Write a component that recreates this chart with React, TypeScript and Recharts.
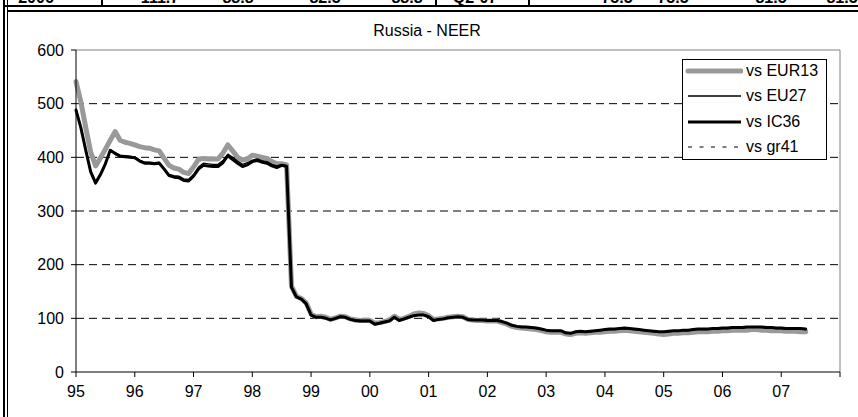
import React from 'react';
import {
  LineChart,
  Line,
  XAxis,
  YAxis,
  ReferenceLine,
  Legend,
} from 'recharts';

// Russia NEER, monthly, Jan 1995 - Jun 2007 (index values)
const eur13 = [
  541, 503, 455, 410, 384, 399, 415, 432, 448, 432, 428, 426,
  423, 420, 418, 417, 414, 412, 398, 385, 380, 378, 372, 370,
  382, 396, 398, 397, 397, 397, 408, 423, 412, 400, 395, 397,
  404, 402, 400, 398, 392, 388, 388, 386, 160, 141, 137, 129,
  108, 103, 104, 102, 98, 101, 104, 103, 99, 97, 96, 96,
  96, 91, 92, 94, 97, 104, 98, 100, 104, 108, 110, 109,
  105, 98, 99, 100, 102, 103, 104, 103, 98, 97, 96, 96,
  95, 95, 95, 92, 89, 85, 83, 82, 81, 80, 79, 77,
  75, 74, 74, 74, 71, 70, 72, 73, 72, 73, 74, 74,
  75, 76, 76, 77, 78, 77, 76, 75, 74, 73, 72, 71,
  70, 71, 72, 72, 73, 73, 74, 75, 75, 75, 76, 76,
  77, 77, 78, 78, 78, 78, 79, 79, 78, 78, 77, 77,
  77, 76, 76, 76, 75, 75,
];

const eu27 = [
  490, 457, 415, 375, 355, 370, 390, 414, 409, 404, 403, 402,
  401, 395, 391, 391, 390, 391, 380, 368, 366, 365, 360, 359,
  368, 382, 389, 388, 387, 387, 394, 406, 400, 393, 387, 390,
  395, 397, 394, 392, 387, 384, 387, 385, 159, 141, 137, 128,
  107, 103, 103, 101, 98, 101, 104, 103, 99, 97, 96, 96,
  96, 90, 92, 94, 96, 103, 97, 100, 103, 106, 107, 107,
  104, 97, 98, 99, 101, 102, 103, 102, 98, 97, 97, 97,
  96, 96, 96, 94, 91, 87, 85, 84, 83, 82, 81, 79,
  77, 76, 76, 76, 73, 72, 74, 75, 74, 75, 76, 77,
  78, 79, 79, 80, 81, 80, 79, 78, 77, 76, 75, 74,
  74, 75, 76, 76, 77, 77, 78, 79, 79, 79, 80, 80,
  81, 81, 82, 82, 82, 83, 83, 83, 83, 82, 82, 81,
  81, 80, 80, 80, 80, 79,
];

const ic36 = [
  488, 455, 413, 373, 352, 368, 388, 413, 407, 402, 401, 400,
  399, 393, 389, 389, 388, 389, 378, 366, 363, 362, 357, 356,
  365, 378, 385, 384, 383, 383, 390, 403, 396, 389, 383, 386,
  392, 394, 391, 389, 384, 381, 385, 383, 158, 140, 136, 127,
  106, 102, 102, 100, 97, 100, 103, 102, 98, 96, 95, 95,
  95, 89, 91, 93, 95, 102, 96, 99, 102, 105, 106, 106,
  103, 96, 98, 99, 101, 102, 103, 102, 98, 97, 97, 97,
  96, 96, 96, 94, 91, 87, 85, 84, 84, 83, 82, 80,
  78, 77, 77, 77, 73, 72, 75, 76, 75, 76, 77, 78,
  79, 80, 80, 81, 82, 81, 80, 79, 78, 77, 76, 75,
  75, 76, 77, 77, 78, 78, 79, 80, 80, 80, 81, 81,
  82, 82, 83, 83, 83, 84, 84, 84, 84, 83, 83, 82,
  82, 81, 81, 81, 81, 80,
];

// the dotted gr41 line sits underneath the IC36 line in the reference
const gr41 = ic36;

const yearLabels = ['95', '96', '97', '98', '99', '00', '01', '02', '03', '04', '05', '06', '07', ''];
const yTicks = [0, 100, 200, 300, 400, 500, 600];
const gridValues = [100, 200, 300, 400, 500];

// top strip: bottom edge of the table row above the chart
const tableCells = [
  { text: '2006', x: 36 },
  { text: '111.7', x: 160 },
  { text: '88.8', x: 238 },
  { text: '82.5', x: 325 },
  { text: '88.8', x: 407 },
  { text: 'Q2-07', x: 475 },
  { text: '75.5', x: 617 },
  { text: '75.5', x: 673 },
  { text: '81.5', x: 771 },
  { text: '81.5', x: 842 },
];
const tableSeparators = [101, 435, 528];

const series = [
  { key: 'eur13', name: 'vs EUR13', color: '#999999', width: 5, dash: undefined },
  { key: 'eu27', name: 'vs EU27', color: '#000000', width: 1.3, dash: undefined },
  { key: 'ic36', name: 'vs IC36', color: '#000000', width: 3, dash: undefined },
  { key: 'gr41', name: 'vs gr41', color: '#000000', width: 1, dash: '3 3' },
];

const data = ic36.map((_, i) => ({
  m: i,
  eur13: eur13[i],
  eu27: eu27[i],
  ic36: ic36[i],
  gr41: gr41[i],
}));

const font = '"Liberation Sans", Arial, sans-serif';

function LegendBox() {
  return (
    <div
      style={{
        width: 143,
        height: 99,
        border: '1px solid #000',
        background: '#fff',
        fontFamily: font,
        fontSize: 16,
        position: 'relative',
      }}
    >
      {series.map((s, i) => (
        <div
          key={s.key}
          style={{ position: 'absolute', left: 0, top: 11 + i * 25.3 - 10, height: 20, width: 143 }}
        >
          <svg width={60} height={20} style={{ position: 'absolute', left: 0, top: 0 }}>
            <line
              x1={5}
              x2={58}
              y1={10}
              y2={10}
              stroke={s.color}
              strokeWidth={s.width}
              strokeDasharray={s.dash ? '4 7.5' : undefined}
              strokeLinecap={s.width > 3 ? 'round' : 'butt'}
            />
          </svg>
          <span style={{ position: 'absolute', left: 63, top: 1, lineHeight: '18px', color: '#000' }}>
            {s.name}
          </span>
        </div>
      ))}
    </div>
  );
}

export default function App() {
  return (
    <div style={{ position: 'relative', width: 858, height: 417, background: '#fff', overflow: 'hidden' }}>
      <style>{'body{margin:0}'}</style>

      {/* clipped table row */}
      <div style={{ position: 'absolute', left: 0, top: 0, width: 858, height: 5, overflow: 'hidden' }}>
        {tableCells.map((c) => (
          <span
            key={c.x}
            style={{
              position: 'absolute',
              left: c.x,
              top: -10,
              transform: 'translateX(-50%)',
              fontFamily: font,
              fontSize: 16,
              lineHeight: '16px',
              fontWeight: 'bold',
            }}
          >
            {c.text}
          </span>
        ))}
        {tableSeparators.map((x) => (
          <div key={x} style={{ position: 'absolute', left: x, top: 0, width: 2, height: 6, background: '#000' }} />
        ))}
      </div>

      {/* frame lines */}
      <div style={{ position: 'absolute', left: 3, top: 0, width: 2, height: 417, background: '#000' }} />
      <div style={{ position: 'absolute', left: 7, top: 0, width: 1, height: 417, background: '#000' }} />
      <div style={{ position: 'absolute', left: 3, top: 5, width: 855, height: 2, background: '#000' }} />
      <div style={{ position: 'absolute', left: 7, top: 10, width: 851, height: 2, background: '#000' }} />

      <div
        style={{
          position: 'absolute',
          left: 0,
          top: 22,
          width: 858,
          fontFamily: font,
          fontSize: 16,
          lineHeight: '18px',
        }}
      >
        <span style={{ position: 'absolute', left: 427, transform: 'translateX(-50%)', whiteSpace: 'nowrap' }}>
          Russia - NEER
        </span>
      </div>

      <div style={{ position: 'absolute', left: 0, top: 0 }}>
        <LineChart
          width={858}
          height={417}
          data={data}
          margin={{ top: 50, right: 18, bottom: 15, left: 26 }}
        >
          {gridValues.map((v) => (
            <ReferenceLine key={v} y={v} stroke="#000" strokeDasharray="8 5" strokeWidth={1} />
          ))}
          <ReferenceLine y={600} stroke="#808080" strokeWidth={1} />
          <ReferenceLine x={156} stroke="#808080" strokeWidth={1} />
          <XAxis
            dataKey="m"
            type="number"
            domain={[0, 156]}
            ticks={yearLabels.map((_, i) => i * 12)}
            tickFormatter={(v: number) => yearLabels[v / 12]}
            interval={0}
            height={30}
            tickSize={5}
            tickMargin={9}
            stroke="#000"
            tick={{ fill: '#000', fontSize: 16, fontFamily: font }}
          />
          <YAxis
            type="number"
            domain={[0, 600]}
            ticks={yTicks}
            interval={0}
            width={50}
            tickSize={5}
            tickMargin={7}
            stroke="#000"
            tick={{ fill: '#000', fontSize: 16, fontFamily: font }}
          />
          {series.map((s) => (
            <Line
              key={s.key}
              type="linear"
              dataKey={s.key}
              name={s.name}
              stroke={s.color}
              strokeWidth={s.width}
              strokeDasharray={s.dash}
              strokeLinejoin="round"
              strokeLinecap="round"
              dot={false}
              activeDot={false}
              isAnimationActive={false}
            />
          ))}
          <Legend
            layout="vertical"
            align="center"
            verticalAlign="middle"
            content={() => <LegendBox />}
            wrapperStyle={{ left: 682, top: 59, width: 145, height: 101 }}
          />
        </LineChart>
      </div>
    </div>
  );
}
